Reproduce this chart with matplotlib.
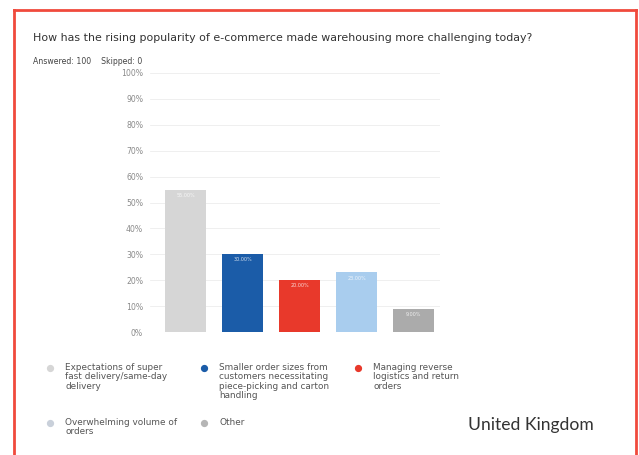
import matplotlib.pyplot as plt
from matplotlib.lines import Line2D

plt.rcParams['font.family'] = ['DejaVu Sans']

title = 'How has the rising popularity of e-commerce made warehousing more challenging today?'
answered = 100
skipped = 0

answers = [
    'Expectations of super\nfast delivery/same-day\ndelivery',
    'Smaller order sizes from\ncustomers necessitating\npiece-picking and carton\nhandling',
    'Managing reverse\nlogistics and return\norders',
    'Overwhelming volume of\norders',
    'Other',
]
shares = [55.0, 30.0, 20.0, 23.0, 9.0]
bar_colors = ['#d6d6d6', '#1b5ca8', '#e8392b', '#a9cdee', '#ababab']
legend_colors = ['#d6d6d6', '#1b5ca8', '#e8392b', '#c9d0da', '#b5b5b5']
y_ticks = list(range(0, 101, 10))

fig = plt.figure(figsize=(6.39, 4.55), dpi=100)

# red frame, open at the bottom
frame = '#f04a3c'
fig.add_artist(Line2D([14/639, 14/639], [0, 1 - 10/455], color=frame, lw=2.0))
fig.add_artist(Line2D([14/639, 636/639], [1 - 10/455, 1 - 10/455], color=frame, lw=2.0))
fig.add_artist(Line2D([636/639, 636/639], [0, 1 - 10/455], color=frame, lw=2.0))

ax = fig.add_axes([150/639, 1 - 332/455, 290/639, 259/455])
x = list(range(len(shares)))
bars = ax.bar(x, shares, width=0.72, color=bar_colors, zorder=2)
for b, v in zip(bars, shares):
    ax.text(b.get_x() + b.get_width() / 2, v - 2.2, f'{v:.2f}%', ha='center',
            va='center', fontsize=3.5, color='white', alpha=0.8, zorder=3)

ax.set_ylim(0, 100)
ax.set_xlim(-0.62, 4.46)
ax.set_yticks(y_ticks)
ax.set_yticklabels([f'{t}%' for t in y_ticks], fontsize=5.6, color='#8a8a8a')
ax.set_xticks([])
ax.tick_params(axis='y', length=0, pad=5)
ax.grid(axis='y', color='#ededed', lw=0.6, zorder=0)
for s in ax.spines.values():
    s.set_visible(False)

fig.text(33/639, 1 - 38/455, title, fontsize=7.9, color='#333333', va='center')
fig.text(33/639, 1 - 61/455, f'Answered: {answered}    Skipped: {skipped}',
         fontsize=5.6, color='#444444', va='center')

# legend laid out in a grid of three columns
cols = [50, 204, 358]
rows = [368, 423]
for i, (label, c) in enumerate(zip(answers, legend_colors)):
    px = cols[i % 3]
    py = rows[i // 3]
    fig.add_artist(Line2D([px/639], [1 - py/455], marker='o', ms=4.2,
                          color=c, ls='none'))
    fig.text((px + 15)/639, 1 - (py - 5)/455, label, fontsize=6.4,
             color='#555555', va='top', linespacing=1.05)

fig.text(468/639, 1 - 425/455, 'United Kingdom', fontsize=12.6,
         color='#333333', va='center', family=['Lato', 'DejaVu Sans'])

fig.savefig('out.png', dpi=100)
